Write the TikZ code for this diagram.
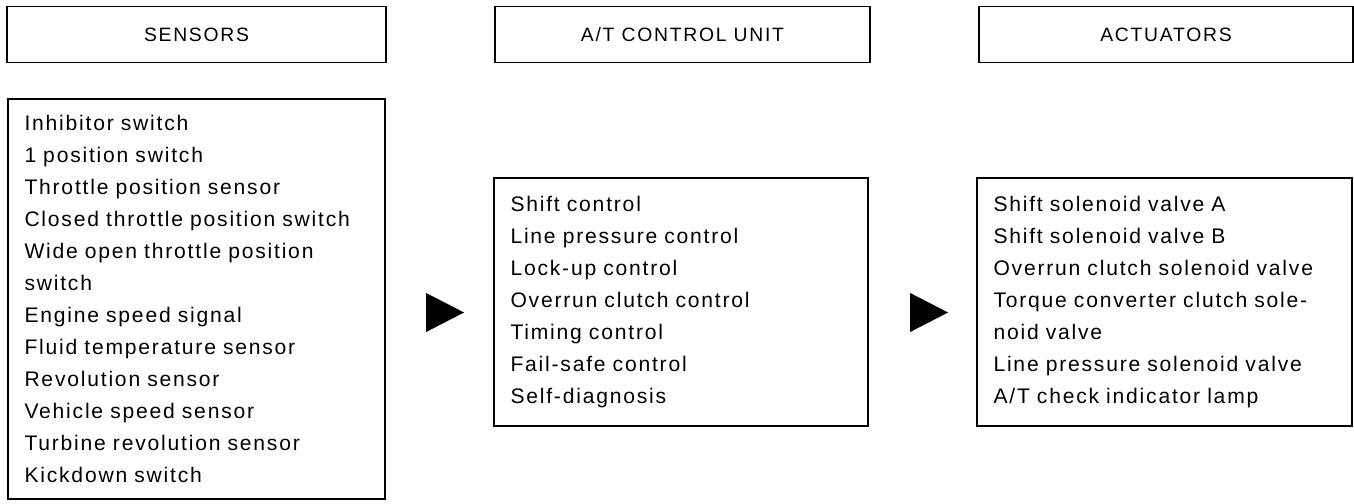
\documentclass[tikz,border=0pt]{standalone}
\usepackage{fontspec}
\setmainfont{Liberation Sans}[LetterSpace=9]
\newfontfamily\listfont{Liberation Sans}[LetterSpace=8.5]
\usepackage{tikz}
\usetikzlibrary{shapes.geometric}

\begin{document}
\begin{tikzpicture}[
  head/.style={draw, line width=1pt, minimum height=1.12cm, text centered,
              font=\fontsize{11}{13}\selectfont},
  listbox/.style={draw, line width=1pt, align=left, inner xsep=0.33cm, inner ysep=0pt,
              font=\listfont\fontsize{12}{18.2}\selectfont},
  flow/.style={isosceles triangle, isosceles triangle stretches, fill=black,
              inner sep=0pt, minimum width=0.78cm, minimum height=0.76cm},
]
\useasboundingbox (0,0) rectangle (27.08,10.08);

% Headings
\node[head, minimum width=7.58cm] (senshead) at (3.93, 9.39) {SENSORS};
\node[head, minimum width=7.5cm]  (ctrlhead) at (13.65, 9.39) {A/T CONTROL UNIT};
\node[head, minimum width=7.48cm] (acthead)  at (23.32, 9.39) {ACTUATORS};

% Sensors
\node[listbox, text width=6.88cm, minimum height=8cm] (sens) at (3.93, 4.10)
  {Inhibitor switch\\
   1 position switch\\
   Throttle position sensor\\
   Closed throttle position switch\\
   Wide open throttle position\\
   switch\\
   Engine speed signal\\
   Fluid temperature sensor\\
   Revolution sensor\\
   Vehicle speed sensor\\
   Turbine revolution sensor\\
   Kickdown switch};

% Control unit
\node[listbox, text width=6.82cm, minimum height=4.96cm] (ctrl) at (13.62, 4.04)
  {Shift control\\
   Line pressure control\\
   Lock-up control\\
   Overrun clutch control\\
   Timing control\\
   Fail-safe control\\
   Self-diagnosis};

% Actuators
\node[listbox, text width=6.84cm, minimum height=4.96cm] (act) at (23.29, 4.04)
  {Shift solenoid valve A\\
   Shift solenoid valve B\\
   Overrun clutch solenoid valve\\
   Torque converter clutch sole-\\
   noid valve\\
   Line pressure solenoid valve\\
   A/T check indicator lamp};

% Arrows
\node[flow] (sens2ctrl) at (8.76, 3.83) {};
\node[flow] (ctrl2act)  at (18.44, 3.83) {};

\end{tikzpicture}
\end{document}
